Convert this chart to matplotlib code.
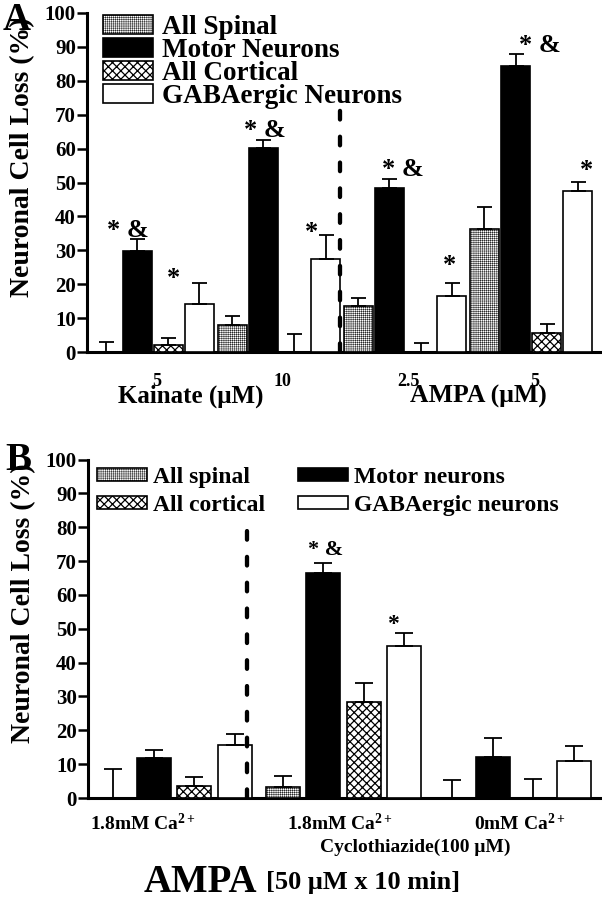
import numpy as np
import matplotlib
matplotlib.use('Agg')
import matplotlib.pyplot as plt

plt.rcParams['font.family'] = ['Liberation Serif', 'DejaVu Serif']
plt.rcParams['font.weight'] = 'bold'
plt.rcParams['axes.labelweight'] = 'bold'
plt.rcParams['mathtext.fontset'] = 'custom'
plt.rcParams['mathtext.rm'] = 'Liberation Serif:bold'
plt.rcParams['mathtext.bf'] = 'Liberation Serif:bold'
plt.rcParams['mathtext.it'] = 'Liberation Serif:bold'

# ---- panel A data (Kainate 5, 10 uM ; AMPA 2.5, 5 uM)
groups_A = ['5', '10', '2.5', '5']
spinal_A = [0, 8.0, 13.6, 36.2]
spinal_A_err = [2.9, 2.6, 2.2, 6.7]
motor_A = [29.9, 60.3, 48.4, 84.4]
motor_A_err = [3.3, 2.2, 2.6, 3.4]
cortical_A = [2.1, 0, 0, 5.7]
cortical_A_err = [1.9, 5.2, 2.6, 2.5]
gaba_A = [14.2, 27.3, 16.5, 47.6]
gaba_A_err = [6.2, 7.2, 3.9, 2.6]

# ---- panel B data (AMPA 50 uM x 10 min)
groups_B = ['1.8mM Ca$^{2+}$', '1.8mM Ca$^{2+}$', '0mM Ca$^{2+}$']
spinal_B = [0, 3.2, 0]
spinal_B_err = [8.6, 3.4, 5.3]
motor_B = [11.9, 66.6, 12.2]
motor_B_err = [2.3, 2.8, 5.6]
cortical_B = [3.5, 28.3, 0]
cortical_B_err = [2.8, 5.7, 5.5]
gaba_B = [15.8, 44.8, 11.0]
gaba_B_err = [3.0, 3.8, 4.3]

labels_A = ['All Spinal', 'Motor Neurons', 'All Cortical', 'GABAergic Neurons']
labels_B = ['All spinal', 'Motor neurons', 'All cortical', 'GABAergic neurons']

styles = [dict(color='white', hatch='+' * 8, hlw=0.3),
          dict(color='black', hatch=None, hlw=1.0),
          dict(color='white', hatch='xxxx', hlw=0.9),
          dict(color='white', hatch=None, hlw=1.0)]


def set_hlw(patches, lw):
    for p in patches:
        if hasattr(p, 'set_hatch_linewidth'):
            p.set_hatch_linewidth(lw)


def draw_bars(ax, series, errs, labels, gstep, width, capsize):
    n = len(series[0])
    handles = []
    for k, (vals, err, lab, st) in enumerate(zip(series, errs, labels, styles)):
        x = np.arange(n) * gstep + k
        plt.rcParams['hatch.linewidth'] = st['hlw']
        bc = ax.bar(x, vals, width, color=st['color'], edgecolor='black',
                    linewidth=1.2, hatch=st['hatch'], label=lab,
                    yerr=[np.zeros(n), err], capsize=capsize,
                    error_kw=dict(elinewidth=1.3, capthick=1.3, ecolor='black'),
                    zorder=3)
        set_hlw(bc.patches, st['hlw'])
        handles.append(bc)
    return handles


def style_axis(ax):
    ax.set_ylim(0, 100)
    ax.set_yticks(np.arange(0, 101, 10))
    for s in ['top', 'right']:
        ax.spines[s].set_visible(False)
    for s in ['left', 'bottom']:
        ax.spines[s].set_linewidth(2.2)
    ax.tick_params(axis='y', direction='out', length=7, width=1.8, labelsize=15, pad=1)
    ax.tick_params(axis='x', length=0)


fig = plt.figure(figsize=(6.02, 9), dpi=100)

# ================= panel A =================
axA = fig.add_axes([87 / 602, (900 - 352) / 900, 513 / 602, 339 / 900])
gA = 4.05
hA = draw_bars(axA, [spinal_A, motor_A, cortical_A, gaba_A],
               [spinal_A_err, motor_A_err, cortical_A_err, gaba_A_err],
               labels_A, gA, 0.93, 5.4)
style_axis(axA)
axA.set_xlim(-0.61, 3 * gA + 3 + 0.71)
axA.set_xticks(np.arange(4) * gA + 1.62)
axA.set_xticklabels(groups_A, fontsize=13)
axA.tick_params(axis='x', pad=15)
axA.set_ylabel('Neuronal Cell Loss (%)', fontsize=20)
axA.yaxis.set_label_coords(-0.101, 0.575)

# separator
sepA = gA + 3 + 0.465
axA.plot([sepA, sepA], [0, 72.3], color='black', lw=3.1, ls=(0, (2, 4)),
         dash_capstyle='round', zorder=4)

# significance marks
motor_dx = [-0.29, 0.06, 0.42, 0.77]
star_dx = [-0.83, -0.45, -0.06, 0.29]
star_dy = [3.5, 2.7, 7.3, 5.3]
for g in range(4):
    xm = g * gA + 1
    axA.text(xm + motor_dx[g], motor_A[g] + motor_A_err[g] + 0.8, '* &',
             fontsize=19, ha='center', va='baseline')
    xg = g * gA + 3
    axA.text(xg + star_dx[g], gaba_A[g] + gaba_A_err[g] + star_dy[g] - 4.0, '*',
             fontsize=19, ha='center', va='baseline')

trA = axA.get_xaxis_transform()
axA.text(2.73, -0.13, 'Kainate (\u03bcM)', transform=trA, fontsize=18,
         ha='center', va='center')
axA.text(11.94, -0.13, 'AMPA (\u03bcM)', transform=trA, fontsize=18.5,
         ha='center', va='center')

legA = axA.legend(handles=hA, loc='upper left', bbox_to_anchor=(0.031, 0.993),
                  frameon=False, fontsize=19.5, handlelength=1.85, handleheight=0.7,
                  handletextpad=0.35, labelspacing=-0.08, borderpad=0,
                  borderaxespad=0)
for h, st in zip(legA.legend_handles, styles):
    set_hlw([h], st['hlw'])

# ================= panel B =================
axB = fig.add_axes([88 / 602, (900 - 798) / 900, 512 / 602, 338.5 / 900])
gB = 4.185
hB = draw_bars(axB, [spinal_B, motor_B, cortical_B, gaba_B],
               [spinal_B_err, motor_B_err, cortical_B_err, gaba_B_err],
               labels_B, gB, 0.84, 6.5)
style_axis(axB)
axB.set_xlim(-0.62, 2 * gB + 3 + 0.65)
axB.set_xticks([0.74, 5.6, 10.05])
axB.set_xticklabels(groups_B, fontsize=14)
axB.tick_params(axis='x', pad=11)
axB.set_ylabel('Neuronal Cell Loss (%)', fontsize=20)
axB.yaxis.set_label_coords(-0.101, 0.575)

sepB = 3 + 0.31
axB.plot([sepB, sepB], [0, 80.5], color='black', lw=3.1, ls=(0, (2, 4)),
         dash_capstyle='round', zorder=4)

axB.text(gB + 1 + 0.05, motor_B[1] + motor_B_err[1] + 2.3, '* &',
         fontsize=16, ha='center', va='baseline')
axB.text(gB + 3 - 0.27, gaba_B[1] + gaba_B_err[1] + 4.8 - 3.8, '*',
         fontsize=17, ha='center', va='baseline')

trB = axB.get_xaxis_transform()
axB.text(7.46, -0.145, 'Cyclothiazide(100 \u03bcM)', transform=trB, fontsize=14,
         ha='center', va='center')

stylesB = [styles[0], styles[2], styles[1], styles[3]]
hB_order = [hB[0], hB[2], hB[1], hB[3]]
legB = axB.legend(handles=hB_order, loc='upper left', bbox_to_anchor=(0.018, 0.978),
                  ncol=2, frameon=False, fontsize=17, handlelength=2.1,
                  handleheight=0.5, handletextpad=0.26, labelspacing=0.3,
                  columnspacing=1.4, borderpad=0, borderaxespad=0)
for h, st in zip(legB.legend_handles, stylesB):
    set_hlw([h], st['hlw'])

# panel letters and bottom title
fig.text(17 / 602, 1 - 20 / 900, 'A', fontsize=28, ha='center', va='center')
fig.text(18 / 602, 1 - 461 / 900, 'B', fontsize=28, ha='center', va='center')
fig.text(200 / 602, 1 - 882 / 900, 'AMPA', fontsize=28, ha='center', va='center')
fig.text(363 / 602, 1 - 883 / 900, '[50 \u03bcM x 10 min]', fontsize=19,
         ha='center', va='center')

fig.savefig('out.png', dpi=100)
